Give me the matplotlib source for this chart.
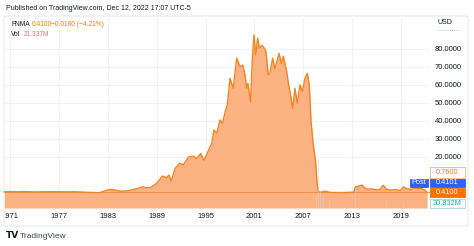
import matplotlib
matplotlib.use("Agg")
import matplotlib.pyplot as plt
from matplotlib.patches import Rectangle, FancyBboxPatch
import numpy as np

# ---------------- data ----------------
years = [1970.3, 1971, 1972, 1973, 1974, 1975, 1976, 1977, 1978, 1979, 1980, 1981, 1982,
         1982.5, 1983.2, 1983.8, 1984.5, 1985.3, 1986, 1986.7, 1987.3, 1987.8, 1988.2,
         1989.0, 1989.7, 1990.2, 1990.5, 1990.8, 1991.25, 1991.8, 1992.3, 1992.9, 1993.5,
         1993.9, 1994.4, 1994.8, 1995.2, 1995.75, 1996.03, 1996.37, 1996.77, 1997.1, 1997.4,
         1997.67, 1998.0, 1998.4, 1998.82, 1999.23, 1999.56, 1999.84, 2000.05, 2000.2, 2000.53,
         2000.74, 2000.95, 2001.15, 2001.4, 2001.6, 2001.9, 2002.2, 2002.42, 2002.7, 2002.9,
         2003.24, 2003.5, 2004.03, 2004.3, 2004.55, 2004.96, 2005.2, 2005.37, 2005.7, 2005.98,
         2006.25, 2006.6, 2006.9, 2007.2, 2007.5, 2007.74, 2007.95, 2008.23, 2008.5, 2008.7,
         2008.9, 2009.3, 2009.7, 2010.2, 2011.0, 2012.0, 2013.2, 2013.4, 2013.8, 2014.2, 2014.6,
         2014.9, 2015.5, 2016.0, 2016.4, 2016.8, 2017.3, 2017.8, 2018.3, 2018.9, 2019.3, 2019.7,
         2020.2, 2020.7, 2021.1, 2021.5, 2021.9, 2022.2]
prices = [0.7, 0.75, 0.7, 0.8, 0.6, 0.7, 0.75, 0.7, 0.65, 0.7, 0.5, 0.3, 0.2,
          1.0, 2.0, 1.8, 1.0, 1.2, 1.8, 2.6, 3.5, 2.8, 3.0,
          5.4, 9.4, 8.5, 10.0, 6.7, 13.7, 16.5, 15.8, 20.0, 20.5,
          19.2, 21.9, 18.2, 22.0, 27.6, 35.0, 33.2, 40.6, 38.7, 45.2,
          48.9, 63.7, 58.2, 74.9, 70.2, 71.1, 65.6, 58.2, 61.0, 50.7,
          74.9, 87.8, 76.7, 86.0, 80.5, 82.0, 80.5, 78.5, 65.6, 66.5,
          74.9, 69.0, 77.6, 72.0, 76.0, 67.4, 60.0, 56.3, 47.0, 58.2,
          50.0, 60.0, 56.5, 63.7, 66.5, 60.0, 39.6, 26.7, 18.0, 5.0,
          0.5, 0.6, 1.1, 0.4, 0.3, 0.3, 0.5, 3.5, 3.8, 4.4, 2.8,
          2.2, 2.3, 1.7, 2.0, 4.3, 2.0, 1.6, 1.9, 1.3, 3.5, 2.4,
          2.0, 2.8, 2.5, 2.7, 1.6, 0.41]

vol_years = [2008.6, 2008.9, 2009.1, 2009.5, 2009.8, 2010.2, 2013.4, 2013.6, 2014.2, 2017.2, 2019.3, 2022.2]
vol_values = [300, 1200, 400, 250, 350, 200, 500, 350, 250, 150, 150, 30.8]

price_ticks = [20, 30, 40, 50, 60, 70, 80]
year_ticks = [1971, 1977, 1983, 1989, 1995, 2001, 2007, 2013, 2019]

W, H = 474, 246
def fx(px): return px / W
def fy(py): return 1 - py / H

LINE = '#F5841F'
FILL = '#FBB282'
GRID = '#F0F3FA'
TXT = '#131722'
FONT = 'Liberation Sans'

fig = plt.figure(figsize=(W / 100, H / 100), dpi=100)
fig.patch.set_facecolor('white')

# panel border
fig.patches.append(FancyBboxPatch((fx(4), fy(226)), fx(464), 210 / H,
                                  boxstyle='round,pad=0,rounding_size=0.008',
                                  transform=fig.transFigure, facecolor='none',
                                  edgecolor='#E0E3EB', linewidth=0.6, zorder=-5))

# main axes: x pixel 4..430, y pixel 18..208
px_per_year = (401 - 59) / (2019 - 1977)
x0 = 1977 + (4 - 59) / px_per_year
x1 = 1977 + (430 - 59) / px_per_year
y_per_px = 10 / 18.0
ymin = 0.41 - (208 - 192.3) * y_per_px
ymax = 0.41 + (192.3 - 18) * y_per_px

ax = fig.add_axes([fx(4), fy(208), fx(426), 190 / H], zorder=1)
ax.set_xlim(x0, x1)
ax.set_ylim(ymin, ymax)
ax.set_facecolor('none')
for s in ax.spines.values():
    s.set_visible(False)
ax.set_xticks([]); ax.set_yticks([])

for yt in year_ticks:
    ax.axvline(yt, color=GRID, lw=0.8, zorder=0)
for pt in price_ticks:
    ax.axhline(pt, color=GRID, lw=0.8, zorder=0)

ax.fill_between(years, prices, ymin, color=FILL, lw=0, zorder=1)
ax.plot(years, prices, color=LINE, lw=1.0, zorder=3)
ax.axhline(0.41, color='#F28B3C', lw=0.6, zorder=2)

# volume overlay
vax = fig.add_axes([fx(4), fy(208), fx(426), 190 / H], zorder=2)
vax.set_xlim(x0, x1)
vax.set_ylim(0, 1200 * 190 / 48)
vax.set_facecolor('none')
for s in vax.spines.values():
    s.set_visible(False)
vax.set_xticks([]); vax.set_yticks([])
vax.bar(vol_years, vol_values, width=0.08, color='#C9D6E3', alpha=0.45, lw=0, zorder=2)

# x labels, clipped to panel
clip = Rectangle((fx(5), 0), fx(460), 1, transform=fig.transFigure, facecolor='none',
                 edgecolor='none')
for yt in year_ticks:
    px = 59 + (yt - 1977) * px_per_year
    t = fig.text(fx(px), fy(217), str(yt), ha='center', va='center', fontsize=5.5,
                 color=TXT, family=FONT)
    t.set_clip_path(clip)
    t.set_clip_on(True)

# price axis labels
fig.text(fx(437), fy(23), 'USD', ha='left', va='center', fontsize=5, color=TXT, family=FONT)
fig.lines.append(plt.Line2D([fx(437), fx(460)], [fy(30), fy(30)], transform=fig.transFigure,
                            color='#B2B5BE', lw=0.5, ls=(0, (1.5, 1.5))))
for pt in price_ticks:
    py = 192.3 - (pt - 0.41) * 1.8
    fig.text(fx(435), fy(py), f'{pt:.4f}', ha='left', va='center', fontsize=5.5,
             color=TXT, family=FONT)

def box(x_a, x_b, y_a, y_b, face, edge, text, tcolor):
    fig.patches.append(Rectangle((fx(x_a), fy(y_b)), fx(x_b - x_a), (y_b - y_a) / H,
                                 transform=fig.transFigure, facecolor=face, edgecolor=edge,
                                 linewidth=0.6, zorder=5))
    fig.text(fx((x_a + x_b) / 2), fy((y_a + y_b) / 2), text, ha='center', va='center',
             fontsize=5.3, color=tcolor, family=FONT, zorder=6)

box(430, 465, 167, 177.5, 'white', '#F9B07F', '0.7600', '#F57C00')
box(410, 428, 179, 187, '#2962FF', '#2962FF', 'Post', 'white')
box(430, 465, 179, 187, '#2962FF', '#2962FF', '0.4101', 'white')
box(430, 465, 188, 197, '#F57400', '#F57400', '0.4100', 'white')
box(430, 465, 199, 208, 'white', '#9FD8D2', '30.832M', '#26A69A')

# header
fig.text(fx(6), fy(8), 'Published on TradingView.com, Dec 12, 2022 17:07 UTC-5', ha='left',
         va='center', fontsize=5.0, color=TXT, family=FONT)
fig.text(fx(11), fy(25), 'FNMA', ha='left', va='center', fontsize=4.8, color=TXT, family=FONT)
fig.text(fx(32), fy(25), '0.4100', ha='left', va='center', fontsize=4.8, color='#F57C00', family=FONT)
fig.text(fx(51), fy(25), '\u22120.0180 (\u22124.21%)', ha='left', va='center', fontsize=4.8,
         color='#F57C00', family=FONT)
fig.text(fx(11), fy(35), 'Vol', ha='left', va='center', fontsize=4.8, color=TXT, family=FONT)
fig.text(fx(24), fy(35), '21.337M', ha='left', va='center', fontsize=4.8, color='#E5707F', family=FONT)

# footer logo
fig.text(fx(6), fy(236), 'TV', ha='left', va='center', fontsize=6.5, color=TXT,
         family='DejaVu Sans', fontweight='bold')
fig.text(fx(20), fy(236), 'TradingView', ha='left', va='center', fontsize=6, color='#434651', family=FONT)

fig.savefig('out.png', dpi=100)
